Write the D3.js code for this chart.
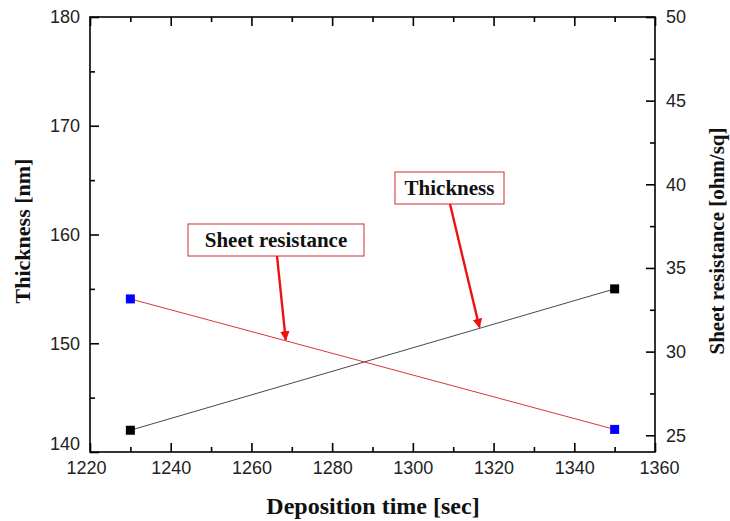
<!DOCTYPE html>
<html>
<head>
<meta charset="utf-8">
<script src="https://cdn.jsdelivr.net/npm/d3@7"></script>
<style>
  html, body { margin: 0; padding: 0; background: #fff; }
  svg { display: block; }
</style>
</head>
<body>
<svg id="chart" width="730" height="521"></svg>
<script>
// Deposition time (sec) for each sample
const depositionTime = [1230, 1350];
// Film thickness (nm), left axis
const thickness = [142, 155];
// Sheet resistance (ohm/sq), right axis
const sheetResistance = [33.15, 25.35];

const xTicks = [1220, 1240, 1260, 1280, 1300, 1320, 1340, 1360];
const leftTicks = [140, 150, 160, 170, 180];
const rightTicks = [25, 30, 35, 40, 45, 50];

const svg = d3.select("#chart");
const m = { left: 90, right: 655, top: 17, bottom: 452 };

const x = d3.scaleLinear().domain([1220, 1360]).range([m.left, m.right]);
const yL = d3.scaleLinear().domain([140, 180]).range([m.bottom, m.top]);
const yR = d3.scaleLinear().domain([24, 50]).range([m.bottom, m.top]);

const tickFont = "'Liberation Sans', Arial, sans-serif";
const titleFont = "'Liberation Serif', 'Times New Roman', serif";

// Axes with inward ticks: major ticks carry labels, minor ticks halfway
function axisGroup(axis, transform) {
  const g = svg.append("g").attr("transform", transform).call(axis);
  g.select(".domain").remove();
  g.selectAll("line").attr("stroke", "#000").attr("stroke-width", 1.6);
  g.selectAll("text").attr("font-family", tickFont).attr("font-size", 18).attr("fill", "#222");
  return g;
}

const xMinor = d3.range(1230, 1360, 20);
const lMinor = d3.range(145, 180, 10);
const rMinor = d3.range(27.5, 50, 5);

// bottom
const gx = axisGroup(d3.axisBottom(x).tickValues(xTicks).tickFormat(d3.format("d")).tickSizeInner(-9).tickSizeOuter(0).tickPadding(9),
  `translate(0,${m.bottom})`);
// end labels sit slightly outside the corners
gx.selectAll("text").attr("dx", d => d === 1220 ? -4 : d === 1360 ? 4 : 0);
axisGroup(d3.axisBottom(x).tickValues(xMinor).tickFormat("").tickSizeInner(-5).tickSizeOuter(0),
  `translate(0,${m.bottom})`);
// top
axisGroup(d3.axisTop(x).tickValues(xTicks).tickFormat("").tickSizeInner(-9).tickSizeOuter(0),
  `translate(0,${m.top})`);
axisGroup(d3.axisTop(x).tickValues(xMinor).tickFormat("").tickSizeInner(-5).tickSizeOuter(0),
  `translate(0,${m.top})`);
// left
const gl = axisGroup(d3.axisLeft(yL).tickValues(leftTicks).tickFormat(d3.format("d")).tickSizeInner(-9).tickSizeOuter(0).tickPadding(10),
  `translate(${m.left},0)`);
gl.selectAll("text").filter(d => d === 140).attr("y", -8);
axisGroup(d3.axisLeft(yL).tickValues(lMinor).tickFormat("").tickSizeInner(-5).tickSizeOuter(0),
  `translate(${m.left},0)`);
// right
axisGroup(d3.axisRight(yR).tickValues(rightTicks).tickFormat(d3.format("d")).tickSizeInner(-9).tickSizeOuter(0).tickPadding(11),
  `translate(${m.right},0)`);
axisGroup(d3.axisRight(yR).tickValues(rMinor).tickFormat("").tickSizeInner(-5).tickSizeOuter(0),
  `translate(${m.right},0)`);

// frame
svg.append("rect")
  .attr("x", m.left).attr("y", m.top)
  .attr("width", m.right - m.left).attr("height", m.bottom - m.top)
  .attr("fill", "none").attr("stroke", "#000").attr("stroke-width", 1.6);

// Series lines
const thickPts = depositionTime.map((t, i) => [x(t), yL(thickness[i])]);
const resPts = depositionTime.map((t, i) => [x(t), yR(sheetResistance[i])]);

svg.append("path").attr("d", d3.line()(thickPts))
  .attr("fill", "none").attr("stroke", "#333").attr("stroke-width", 0.9);
svg.append("path").attr("d", d3.line()(resPts))
  .attr("fill", "none").attr("stroke", "#d42020").attr("stroke-width", 0.9);

// Square markers
const ms = 9;
svg.selectAll(".mThick").data(thickPts).enter().append("rect")
  .attr("x", d => d[0] - ms / 2).attr("y", d => d[1] - ms / 2)
  .attr("width", ms).attr("height", ms).attr("fill", "#000");
svg.selectAll(".mRes").data(resPts).enter().append("rect")
  .attr("x", d => d[0] - ms / 2).attr("y", d => d[1] - ms / 2)
  .attr("width", ms).attr("height", ms).attr("fill", "#0000ff");

// Callouts: boxed label with an arrow to a point on its line
const defs = svg.append("defs");
defs.append("marker").attr("id", "arrowHead")
  .attr("viewBox", "0 0 10 10").attr("refX", 9).attr("refY", 5)
  .attr("markerWidth", 4).attr("markerHeight", 4.5).attr("orient", "auto")
  .append("path").attr("d", "M0,0 L10,5 L0,10 Z").attr("fill", "#ee1111");

function callout(label, bx, by, bw, bh, xVal, series, scale, startX) {
  svg.append("rect").attr("x", bx).attr("y", by).attr("width", bw).attr("height", bh)
    .attr("fill", "#fff").attr("stroke", "#d65050").attr("stroke-width", 1.2);
  svg.append("text").attr("x", bx + bw / 2).attr("y", by + bh / 2 + 7)
    .attr("text-anchor", "middle").attr("font-family", titleFont)
    .attr("font-weight", "bold").attr("font-size", 21).attr("fill", "#111").text(label);
  // target point on the series line at xVal
  const yv = series[0] + (series[1] - series[0]) * (xVal - depositionTime[0]) / (depositionTime[1] - depositionTime[0]);
  svg.append("line").attr("x1", startX).attr("y1", by + bh)
    .attr("x2", x(xVal)).attr("y2", scale(yv) - 1)
    .attr("stroke", "#ee1111").attr("stroke-width", 2.4)
    .attr("marker-end", "url(#arrowHead)");
}

callout("Sheet resistance", 188, 224, 176, 32, 1268.5, sheetResistance, yR, 277);
callout("Thickness", 395, 172, 109, 32, 1316.5, thickness, yL, 450);

// Axis titles
svg.append("text").attr("x", 373).attr("y", 514).attr("text-anchor", "middle")
  .attr("font-family", titleFont).attr("font-weight", "bold").attr("font-size", 24)
  .attr("fill", "#111").text("Deposition time [sec]");
svg.append("text").attr("transform", "translate(30,231) rotate(-90)").attr("text-anchor", "middle")
  .attr("font-family", titleFont).attr("font-weight", "bold").attr("font-size", 22)
  .attr("fill", "#111").text("Thickness [nm]");
svg.append("text").attr("transform", "translate(724,241) rotate(-90)").attr("text-anchor", "middle")
  .attr("font-family", titleFont).attr("font-weight", "bold").attr("font-size", 21)
  .attr("fill", "#111").text("Sheet resistance [ohm/sq]");
</script>
</body>
</html>
